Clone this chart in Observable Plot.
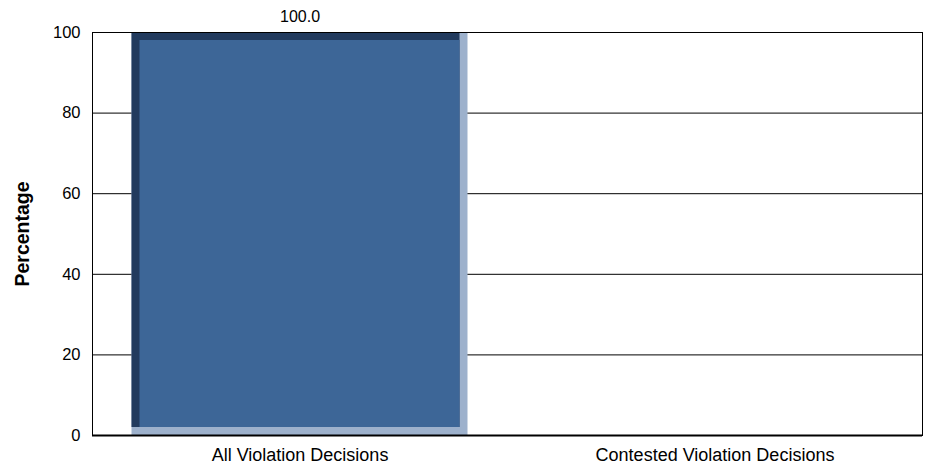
<!DOCTYPE html>
<html>
<head>
<meta charset="utf-8">
<script src="https://cdn.jsdelivr.net/npm/d3@7"></script>
<script src="https://cdn.jsdelivr.net/npm/@observablehq/plot@0.6"></script>
<style>
  html, body { margin: 0; padding: 0; background: #fff; }
  #chart svg { display: block; }
</style>
</head>
<body>
<div id="chart"></div>
<script>
const categories = ["All Violation Decisions", "Contested Violation Decisions"];
const values = [100.0, 0];
const valueLabels = ["100.0", ""];
const yTicks = [0, 20, 40, 60, 80, 100];
const gridTicks = [20, 40, 60, 80];
const yTitle = "Percentage";

const data = categories.map((c, i) => ({category: c, value: values[i], label: valueLabels[i]}));
const bars = data.filter(d => d.value > 0);

const edge = 8;
const sideInset = 39.5;

const chart = Plot.plot({
  width: 927,
  height: 468,
  marginLeft: 92,
  marginRight: 5,
  marginTop: 32,
  marginBottom: 33,
  style: {fontFamily: "'Liberation Sans', Arial, sans-serif", fontSize: "16px", color: "#000", background: "#fff"},
  x: {domain: categories, padding: 0, label: null},
  y: {domain: [0, 100], label: null},
  marks: [
    Plot.ruleY(gridTicks, {stroke: "#000", strokeWidth: 1}),
    // light (right + bottom bevel)
    Plot.barY(bars, {x: "category", y: "value", fill: "#9db1cc", insetLeft: sideInset, insetRight: sideInset}),
    // dark (left + top bevel)
    Plot.barY(bars, {x: "category", y: "value", fill: "#223b5e", insetLeft: sideInset, insetRight: sideInset + edge, insetBottom: edge}),
    // face
    Plot.barY(bars, {x: "category", y: "value", fill: "#3d6697", insetLeft: sideInset + edge, insetRight: sideInset + edge, insetTop: edge, insetBottom: edge}),
    Plot.text(bars, {x: "category", y: "value", text: "label", dy: -16, fontSize: 16, fill: "#000"}),
    Plot.frame({stroke: "#000", strokeWidth: 1}),
    Plot.ruleY([0], {stroke: "#000", strokeWidth: 2}),
    Plot.axisY(yTicks, {tickSize: 0, tickPadding: 12, label: null, fontSize: 16.5}),
    Plot.axisX({tickSize: 0, tickPadding: 13, label: null, fontSize: 18}),
    Plot.text([yTitle], {frameAnchor: "left", dx: -70, rotate: -90, textAnchor: "middle", fontWeight: "bold", fontSize: 19.5, fill: "#000"})
  ]
});
document.getElementById("chart").appendChild(chart);
</script>
</body>
</html>
